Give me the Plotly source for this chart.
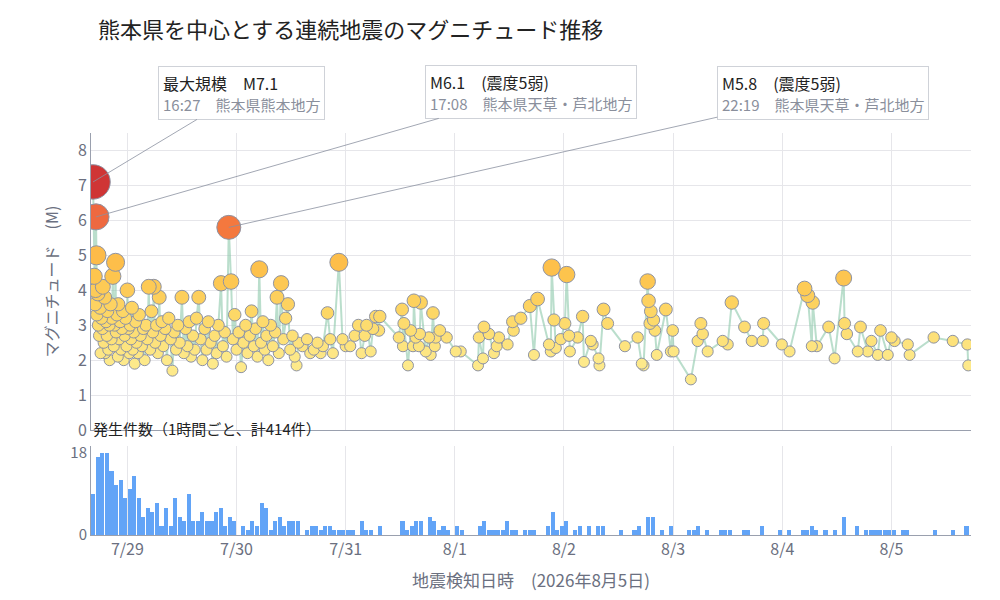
import pandas as pd
import plotly.graph_objects as go
from plotly.subplots import make_subplots

START = pd.Timestamp("2026-07-28 16:00")

# hours since 7/28 16:00 and magnitude of each event
quake_hours = [0.45,1.1,0.7,1.2,1.0,0.9,1.3,1.5,1.6,1.8,2.0,2.1,2.3,2.5,2.6,2.8,3.0,3.1,3.3,3.5,3.6,3.8,4.0,4.1,4.3,4.5,4.6,4.8,5.0,5.2,5.4,5.5,5.7,5.9,6.0,6.2,6.4,6.6,6.8,7.0,7.2,7.4,7.6,7.8,8.0,8.2,8.4,8.6,8.8,9.0,9.2,9.4,9.6,9.8,10.0,10.3,10.6,10.9,11.2,11.5,11.8,12.1,12.4,12.7,13.0,13.3,13.6,13.8,14.1,14.4,14.7,15.0,15.3,15.6,15.9,16.3,16.7,17.1,17.5,17.9,18.3,18.7,19.1,19.5,20.0,20.4,20.8,21.2,21.6,22.0,22.4,22.8,23.2,23.7,24.1,24.5,25.0,25.4,25.8,26.3,26.8,27.2,27.6,28.0,28.6,29.0,29.4,29.8,30.3,30.8,31.2,31.6,32.0,32.5,33.0,33.5,34.0,34.4,34.9,35.3,35.8,36.2,36.6,37.0,37.4,37.8,38.2,38.6,39.0,39.5,40.0,40.5,40.9,41.3,41.8,42.3,42.8,43.3,43.8,44.3,44.8,45.2,45.6,46.5,47.5,48.2,49.0,49.8,50.5,51.0,52.0,52.6,53.2,54.5,55.3,56.0,57.0,58.0,58.8,59.5,60.2,60.6,61.5,62.0,62.6,63.3,63.5,67.7,68.4,68.6,68.8,69.7,70.3,70.8,71.0,71.4,72.1,72.3,72.5,73.6,74.3,74.7,75.2,75.6,75.8,76.7,78.2,80.2,81.3,85.1,85.3,86.2,86.4,87.5,88.6,89.2,89.7,91.6,92.7,92.9,94.5,96.5,97.4,98.2,100.7,101.1,101.3,101.8,102.2,103.3,104.2,104.6,105.1,105.3,107.0,108.1,108.4,109.9,110.3,111.6,111.8,112.7,113.6,117.4,120.2,121.1,121.5,122.4,122.6,122.9,123.1,123.7,124.0,124.4,126.4,127.5,127.9,128.1,131.9,133.4,134.1,134.5,135.6,138.9,140.0,140.9,143.7,145.3,147.7,147.9,151.9,153.6,156.9,157.6,158.5,158.7,159.6,162.2,163.5,165.5,165.7,166.2,168.6,169.2,170.8,171.6,173.0,173.6,175.2,176.0,176.7,179.6,180.0,185.3,189.5,192.7,192.9]
quake_mags = [7.1,6.1,4.4,5.0,4.0,3.6,3.3,3.9,3.0,2.7,3.5,2.2,3.2,2.9,4.1,2.5,3.8,2.2,3.1,2.7,3.4,2.3,3.0,2.0,3.6,2.6,3.2,4.4,2.4,3.0,4.8,2.8,3.3,2.1,3.6,2.6,3.1,2.3,2.9,3.4,2.0,2.7,3.2,2.4,4.0,2.9,2.2,3.0,2.6,3.5,2.3,2.8,1.9,3.1,2.5,2.2,3.3,2.7,2.4,2.9,2.0,3.0,2.6,4.1,2.3,3.4,2.8,4.1,2.5,3.0,2.2,3.8,2.7,3.1,2.4,2.9,2.0,3.2,2.6,1.7,2.8,2.3,3.0,2.5,3.8,2.2,2.9,2.4,3.1,2.1,2.7,2.3,3.2,3.8,2.6,2.0,2.9,2.3,3.1,2.5,1.9,2.7,2.2,3.0,4.2,2.4,2.8,2.1,5.8,4.25,2.6,3.3,2.3,2.8,1.8,2.5,3.0,2.2,2.7,3.4,2.4,2.9,2.1,4.6,2.5,3.1,2.3,2.7,2.0,3.0,2.4,2.8,3.8,2.2,4.2,2.6,3.2,3.6,2.3,2.7,2.1,1.85,2.5,2.4,2.6,2.2,2.3,2.5,2.2,2.4,3.35,2.6,2.2,4.8,2.6,2.4,2.4,2.7,3.0,2.2,2.7,3.0,2.25,2.9,3.25,2.85,3.25,2.65,3.45,2.4,3.05,1.85,2.85,2.4,3.7,2.65,2.4,2.75,3.65,2.25,2.65,2.15,3.35,2.4,2.65,2.85,2.65,2.25,2.25,1.85,2.65,2.05,2.95,2.75,2.2,2.4,2.65,2.45,3.1,2.85,3.2,3.55,2.15,3.75,2.45,2.25,4.65,3.15,2.35,2.6,3.05,4.45,2.7,2.25,2.65,3.25,1.95,2.55,2.45,2.05,1.85,3.45,3.05,2.4,2.65,1.9,1.85,4.25,3.7,3.05,3.4,3.15,2.85,2.15,3.45,2.25,2.85,2.25,1.45,2.55,3.05,2.75,2.25,2.55,2.45,3.65,2.95,2.55,2.55,3.05,2.45,2.25,4.05,3.85,2.4,3.65,2.4,2.95,2.05,4.35,3.05,2.75,2.25,2.95,2.25,2.55,2.15,2.85,2.15,2.65,2.55,2.45,2.15,2.65,2.55,2.45,1.85]

# hourly event counts starting 7/28 16:00
hourly_counts = [9,17,18,18,14,11,12,8,10,13, 8,4,6,5,7,2,6,2,8,4, 3,9,3,3,5,3,3,5,6,2,
    4,3,0,2,1,3,2,7,6,1, 3,4,2,3,3,3,0,1,2,2, 1,2,2,1,1,1,1,1,0,3, 1,1,0,2,0,0,0,0,3,1,
    2,3,3,0,4,3,1,2,1,0, 2,1,0,0,0,2,3,1,1,1,1,
    3,1,1,0,1,1,1,0,0,2, 5,1,2,3,0,1,2,0,2,0, 2,2,0,0,0,1,0,0,1,2, 0,4,4,0,1,0,2,0,0,0,
    1,1,2,0,1,0,0,1,1,1, 0,0,1,1,0,0,2,0,0,0, 1,0,1,0,0,1,1,2,1,0, 1,0,1,0,4,0,0,2,0,1,
    1,1,1,1,1,1,0,1,1,0, 0,0,0,0,1,0,0,0,1,0, 0,2]

tick_dates = ["2026-07-29","2026-07-30","2026-07-31","2026-08-01","2026-08-02","2026-08-03","2026-08-04","2026-08-05"]
tick_labels = ["7/29","7/30","7/31","8/1","8/2","8/3","8/4","8/5"]

callouts = [  # (hour, mag, line1, line2)
    (0.45, 7.1, "最大規模　M7.1", "16:27　熊本県熊本地方"),
    (1.1, 6.1, "M6.1　(震度5弱)", "17:08　熊本県天草・芦北地方"),
    (30.3, 5.8, "M5.8　(震度5弱)", "22:19　熊本県天草・芦北地方"),
]
callout_offsets = [(148, -89), (435, -125), (594, -134)]

df = pd.DataFrame({"h": quake_hours, "m": quake_mags}).sort_values("h")
df["t"] = START + pd.to_timedelta(df["h"], unit="h")
df_plot = df.sort_values("m")

bar_t = START + pd.to_timedelta([i + 0.5 for i in range(len(hourly_counts))], unit="h")

fig = make_subplots(rows=2, cols=1, shared_xaxes=True)

fig.add_trace(go.Scatter(x=df["t"], y=df["m"], mode="lines",
    line=dict(color="rgba(140,200,170,0.6)", width=2), hoverinfo="skip"), row=1, col=1)
fig.add_trace(go.Scatter(x=df_plot["t"], y=df_plot["m"], mode="markers",
    marker=dict(size=[11 + 0.9 * max(m - 2, 0) ** 2 for m in df_plot["m"]], color=df_plot["m"],
                cmin=2, cmax=7.1,
                colorscale=[[0, "#fde98a"], [0.25, "#fdd868"], [0.5, "#fdc24b"], [0.62, "#fdb848"],
                            [0.74, "#f5793e"], [0.8, "#ef6a40"], [1, "#cf3535"]],
                line=dict(color="#8e93a3", width=1), opacity=1)), row=1, col=1)
fig.add_trace(go.Bar(x=bar_t, y=hourly_counts, marker_color="#62a4f7", width=3600000*0.9,
                     marker_line_width=0), row=2, col=1)

xr = [START, START + pd.Timedelta(hours=193.5)]
fig.update_xaxes(range=xr, tickvals=pd.to_datetime(tick_dates), ticktext=tick_labels,
                 showgrid=True, gridcolor="#e6e6ea", tickfont=dict(size=16, color="#6b7080"),
                 linecolor="#9aa0ae", showline=True, zeroline=False)
fig.update_xaxes(title=dict(text="地震検知日時　(2026年8月5日)", font=dict(size=17, color="#6b7080")), row=2, col=1)
fig.update_yaxes(range=[0, 8.5], dtick=1, gridcolor="#e6e6ea", showline=True, linecolor="#9aa0ae",
                 tickfont=dict(size=16, color="#6b7080"), zeroline=False, domain=[0.261, 1],
                 title=dict(text="マグニチュード　(M)", font=dict(size=16, color="#6b7080")), row=1, col=1)
fig.update_yaxes(range=[0, 19.5], tickvals=[0, 18], showgrid=False, showline=True, linecolor="#9aa0ae",
                 tickfont=dict(size=15, color="#6b7080"), zeroline=False, domain=[0, 0.221], row=2, col=1)

for (h, m, l1, l2), (ax, ay) in zip(callouts, callout_offsets):
    fig.add_annotation(x=START + pd.Timedelta(hours=h), y=m, xref="x", yref="y",
        text=f"{l1}<br><span style='color:#8a8f9c;font-size:15px'>{l2}</span>",
        showarrow=True, arrowhead=0, arrowwidth=0.8, arrowcolor="#8a90a0", ax=ax, ay=ay,
        align="left", bgcolor="white", bordercolor="#cfd2d8", borderwidth=1, borderpad=4,
        font=dict(size=16, color="#222"))

fig.add_annotation(text="発生件数（1時間ごと、計414件）", xref="paper", yref="y2 domain", x=0, y=1.06,
                   xanchor="left", yanchor="bottom", showarrow=False, font=dict(size=15, color="#222"))

fig.update_layout(
    width=1000, height=600, showlegend=False, plot_bgcolor="white", paper_bgcolor="white",
    font=dict(family="Noto Sans CJK JP"),
    title=dict(text="熊本県を中心とする連続地震のマグニチュード推移", x=0.09, y=0.975,
               font=dict(size=22, color="#222")),
    margin=dict(l=83, r=37, t=125, b=73), bargap=0,
)
fig.write_html("out.html")
